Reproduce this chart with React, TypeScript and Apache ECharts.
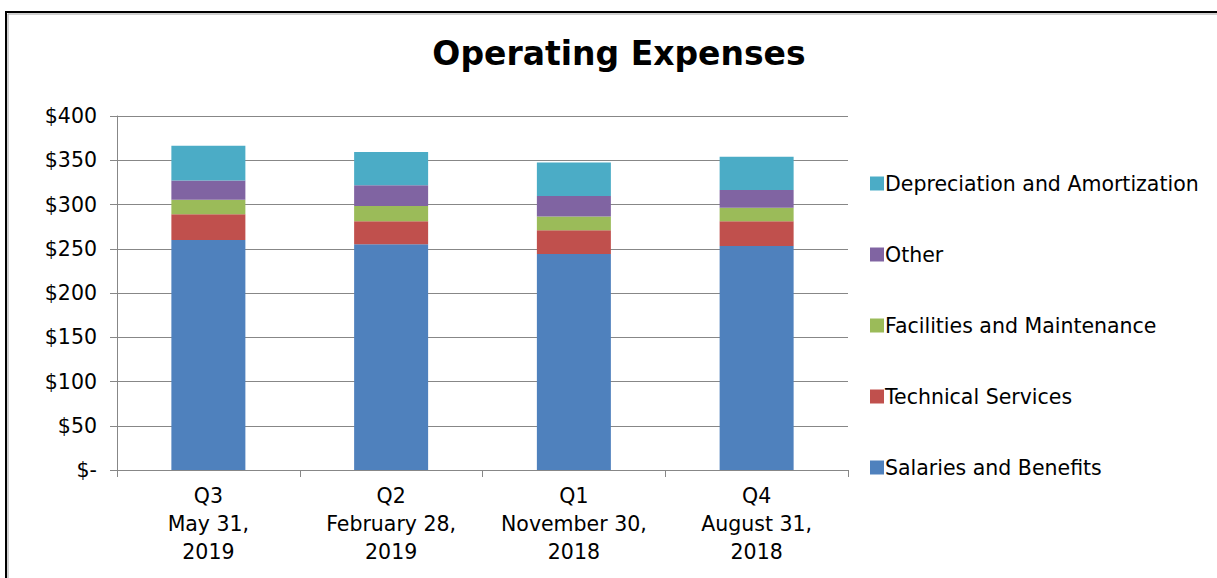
import React, { useEffect, useRef } from "react";
import * as echarts from "echarts";

const categories = ["Q3\nMay 31,\n2019", "Q2\nFebruary 28,\n2019", "Q1\nNovember 30,\n2018", "Q4\nAugust 31,\n2018"];
const salaries = [260, 255, 244, 253];
const technical = [29, 26, 27, 28];
const facilities = [16.5, 17.3, 15.5, 15.4];
const other = [21.5, 23.4, 23, 20];
const depreciation = [39.5, 37.6, 38, 37.6];
const yTicks = [0, 50, 100, 150, 200, 250, 300, 350, 400];

const seriesNames = [
  "Salaries and Benefits",
  "Technical Services",
  "Facilities and Maintenance",
  "Other",
  "Depreciation and Amortization",
];
const seriesData = [salaries, technical, facilities, other, depreciation];
const colors = ["#4F81BD", "#C0504D", "#9BBB59", "#8064A2", "#4BACC6"];

const FONT = "'DejaVu Sans', sans-serif";

export default function App() {
  const ref = useRef<HTMLDivElement>(null);
  useEffect(() => {
    if (!ref.current) return;
    const chart = echarts.init(ref.current, null, { renderer: "svg" });
    chart.setOption({
      animation: false,
      backgroundColor: "#ffffff",
      title: {
        text: "Operating Expenses",
        left: 614,
        textAlign: "center",
        top: 32,
        textStyle: { fontFamily: FONT, fontSize: 33, fontWeight: "bold", color: "#000" },
      },
      legend: {
        orient: "vertical",
        left: 865,
        top: 168,
        itemWidth: 14,
        itemHeight: 14,
        itemGap: 50,
        icon: "rect",
        data: [...seriesNames].reverse(),
        textStyle: { fontFamily: FONT, fontSize: 20.5, color: "#000", lineHeight: 21, padding: [0, 0, 0, -4] },
      },
      grid: { left: 117, right: 369, top: 116, bottom: 108 },
      xAxis: {
        type: "category",
        data: categories,
        axisLine: { lineStyle: { color: "#878787", width: 1 } },
        axisTick: { show: true, length: 7, lineStyle: { color: "#878787" } },
        axisLabel: {
          fontFamily: FONT,
          fontSize: 20.5,
          lineHeight: 28,
          color: "#000",
          margin: 12,
          interval: 0,
        },
      },
      yAxis: {
        type: "value",
        min: 0,
        max: 400,
        interval: 50,
        axisLine: { show: true, lineStyle: { color: "#878787", width: 1 } },
        axisTick: { show: true, length: 7, lineStyle: { color: "#878787" } },
        splitLine: { show: true, lineStyle: { color: "#878787", width: 1 } },
        axisLabel: {
          fontFamily: FONT,
          fontSize: 20.5,
          color: "#000",
          margin: 20,
          formatter: (v: number) => (yTicks.includes(v) ? (v === 0 ? "$-" : "$" + v) : ""),
        },
      },
      series: seriesNames.map((name, i) => ({
        name,
        type: "bar",
        stack: "total",
        barWidth: 74,
        data: seriesData[i],
        itemStyle: { color: colors[i] },
      })),
      graphic: [
        { type: "rect", shape: { x: 6, y: 12, width: 1300, height: 700 }, style: { fill: "none", stroke: "#000", lineWidth: 2 } },
        { type: "rect", shape: { x: 8, y: 14, width: 1300, height: 700 }, style: { fill: "none", stroke: "#a0a0a0", lineWidth: 1 } },
      ],
    });
    return () => chart.dispose();
  }, []);
  return <div ref={ref} style={{ position: "absolute", left: 0, top: 0, width: 1217, height: 578 }} />;
}
